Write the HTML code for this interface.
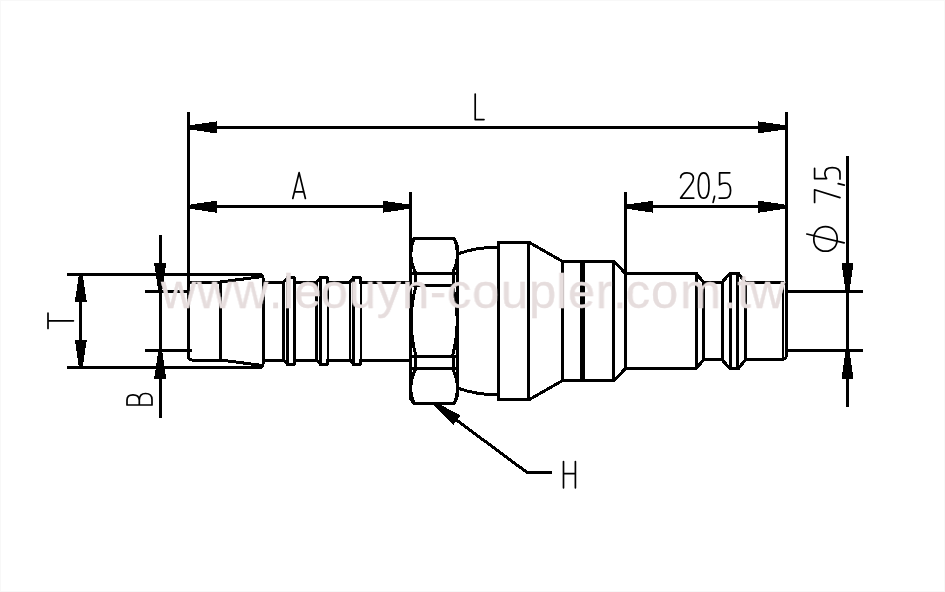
<!DOCTYPE html>
<html><head><meta charset="utf-8"><title>coupler drawing</title>
<style>
html,body{margin:0;padding:0;background:#fff;}
body{width:945px;height:592px;overflow:hidden;position:relative;font-family:"Liberation Sans",sans-serif;}
svg{position:absolute;left:0;top:0;display:block}
.wm{position:absolute;left:160.5px;top:263.3px;font-family:"Liberation Sans",sans-serif;font-size:49px;line-height:56px;color:#e6dddd;white-space:nowrap;-webkit-text-stroke:0.3px #e6dddd;transform-origin:0 0;transform:scaleX(0.992) translateZ(0);will-change:transform;letter-spacing:0.96px;}
</style></head><body>
<svg width="945" height="592" viewBox="0 0 945 592">
<rect width="945" height="592" fill="#fff"/><rect x="0.5" y="0.5" width="944" height="591" fill="none" stroke="#f8f8f8" stroke-width="1"/>
<g fill="none" stroke="#000" stroke-linecap="butt" stroke-linejoin="miter" shape-rendering="crispEdges">
<path d="M66.5,274.4H259.5Q263,274.4 263,278V321" stroke-width="3.0" />
<path d="M66.5,367.6H259.5Q263,367.6 263,364.0V321.0" stroke-width="3.0" />
<path d="M80.8,274.4L80.8,367.6" stroke-width="3.0"/>
<polygon points="82.70,274.40 86.80,302.40 74.80,302.40 78.90,274.40" fill="#000" stroke="none"/>
<polygon points="78.90,367.60 74.80,339.60 86.80,339.60 82.70,367.60" fill="#000" stroke="none"/>
<path d="M160.2,235.3L160.2,418.4" stroke-width="3.0"/>
<path d="M145,291.4L192,291.4" stroke-width="3.0"/>
<path d="M145,350.6L192,350.6" stroke-width="3.0"/>
<polygon points="158.30,291.40 154.20,263.40 166.20,263.40 162.10,291.40" fill="#000" stroke="none"/>
<polygon points="162.10,350.60 166.20,378.60 154.20,378.60 158.30,350.60" fill="#000" stroke="none"/>
<path d="M188.5,112.3L188.5,352" stroke-width="3.0"/>
<path d="M786.4,112.3L786.4,357" stroke-width="3.0"/>
<path d="M188.5,127.4L786.4,127.4" stroke-width="3.0"/>
<polygon points="188.50,125.50 216.50,121.40 216.50,133.40 188.50,129.30" fill="#000" stroke="none"/>
<polygon points="786.40,129.30 758.40,133.40 758.40,121.40 786.40,125.50" fill="#000" stroke="none"/>
<path d="M410.6,191.9L410.6,400" stroke-width="3.0"/>
<path d="M188.5,206.7L410.6,206.7" stroke-width="3.0"/>
<polygon points="188.50,204.80 216.50,200.70 216.50,212.70 188.50,208.60" fill="#000" stroke="none"/>
<polygon points="410.60,208.60 382.60,212.70 382.60,200.70 410.60,204.80" fill="#000" stroke="none"/>
<path d="M625.4,191.9L625.4,368.6" stroke-width="3.0"/>
<path d="M625.4,206.7L786.4,206.7" stroke-width="3.0"/>
<polygon points="625.40,204.80 653.40,200.70 653.40,212.70 625.40,208.60" fill="#000" stroke="none"/>
<polygon points="786.40,208.60 758.40,212.70 758.40,200.70 786.40,204.80" fill="#000" stroke="none"/>
<path d="M847.5,155.8L847.5,406.5" stroke-width="3.0"/>
<path d="M786.4,291.4L862.8,291.4" stroke-width="3.0"/>
<path d="M786.4,350.6L862.8,350.6" stroke-width="3.0"/>
<polygon points="845.60,291.40 841.50,263.40 853.50,263.40 849.40,291.40" fill="#000" stroke="none"/>
<polygon points="849.40,350.60 853.50,378.60 841.50,378.60 845.60,350.60" fill="#000" stroke="none"/>
<path d="M434.3,403.6L527.5,472.8H551.8" stroke-width="3.0" />
<polygon points="435.43,402.07 460.36,415.47 453.20,425.11 433.17,405.13" fill="#000" stroke="none"/>
<path d="M188.5,352V285.5Q188.5,282 192,282H220L263,276.5" stroke-width="3.0" />
<path d="M188.5,290.0V356.5Q188.5,360.0 192,360.0H220L263,365.5" stroke-width="3.0" />
<path d="M220,282L220,360" stroke-width="3.0"/>
<path d="M263,282H283.6L287.6,277.4H293.1Q294.6,277.4 294.6,279V282H316.7L320.7,277.4H326.3Q327.8,277.4 327.8,279V282H350L353.7,277.4H359.4Q360.9,277.4 360.9,279V282H410.6" stroke-width="3.0" />
<path d="M263,360.0H283.6L287.6,364.6H293.1Q294.6,364.6 294.6,363.0V360.0H316.7L320.7,364.6H326.3Q327.8,364.6 327.8,363.0V360.0H350L353.7,364.6H359.4Q360.9,364.6 360.9,363.0V360.0H410.6" stroke-width="3.0" />
<path d="M283.6,282L283.6,360" stroke-width="2.5"/>
<path d="M287.6,277.4L287.6,364.6" stroke-width="2.5"/>
<path d="M294.6,279L294.6,363" stroke-width="2.5"/>
<path d="M316.7,282L316.7,360" stroke-width="2.5"/>
<path d="M320.7,277.4L320.7,364.6" stroke-width="2.5"/>
<path d="M327.8,279L327.8,363" stroke-width="2.5"/>
<path d="M350,282L350,360" stroke-width="2.5"/>
<path d="M353.7,277.4L353.7,364.6" stroke-width="2.5"/>
<path d="M360.9,279L360.9,363" stroke-width="2.5"/>
<path d="M410.6,321V243L414.4,238.1H454L457.5,246V321" stroke-width="3.0" />
<path d="M410.6,321.0V399.0L414.4,403.9H454L457.5,396.0V321.0" stroke-width="3.0" />
<path d="M411,273.5L457.5,273.5" stroke-width="2.5"/>
<path d="M411,368.5L457.5,368.5" stroke-width="2.5"/>
<path d="M411,285.7L457.5,285.7" stroke-width="2.5"/>
<path d="M411,356.3L457.5,356.3" stroke-width="2.5"/>
<path d="M415.7,273.5V285.7M453,273.5V285.7" stroke-width="3.0" />
<path d="M415.7,368.5V356.3M453,368.5V356.3" stroke-width="3.0" />
<path d="M414.4,238.1Q406.4,255 416,273.5M454,238.1Q461.6,255 452.4,273.5" stroke-width="3.0" />
<path d="M414.4,403.9Q406.4,387.0 416,368.5M454,403.9Q461.6,387.0 452.4,368.5" stroke-width="3.0" />
<path d="M416,285.7Q406.3,321 416,356.3M452.4,285.7Q462,321 452.4,356.3" stroke-width="3.0" />
<path d="M458.6,253.6Q476,247.3 498.8,247" stroke-width="3.0" />
<path d="M458.6,388.4Q476,394.7 498.8,395.0" stroke-width="3.0" />
<path d="M498.8,321V242.2H528.9V321" stroke-width="3.0" />
<path d="M498.8,321.0V399.8H528.9V321.0" stroke-width="3.0" />
<path d="M528.9,242.2L562.3,261.3H613.8L625.4,273.4H696.3L703.5,282.3H722L730,273.4H738.5L745.3,282.3H783L786.4,285" stroke-width="3.0" />
<path d="M528.9,399.8L562.3,380.7H613.8L625.4,368.6H696.3L703.5,359.7H722L730,368.6H738.5L745.3,359.7H783L786.4,357.0" stroke-width="3.0" />
<path d="M562.3,261.3L562.3,380.7" stroke-width="3.0"/>
<path d="M582.9,261.3L582.9,380.7" stroke-width="5"/>
<path d="M613.8,261.3L613.8,380.7" stroke-width="3.0"/>
<path d="M696.3,273.4L696.3,368.6" stroke-width="3.0"/>
<path d="M703.5,282.3L703.5,359.7" stroke-width="3.0"/>
<path d="M722,282.3L722,359.7" stroke-width="3.0"/>
<path d="M730,273.4L730,368.6" stroke-width="3.0"/>
<path d="M737.5,273.4L737.5,368.6" stroke-width="3.0"/>
<path d="M745.3,282.3L745.3,359.7" stroke-width="3.0"/>
<path d="M782.9,282.3L782.9,359.7" stroke-width="2"/>
</g>
<g fill="none" stroke="#000" stroke-width="1.7" stroke-linecap="round" stroke-linejoin="round">
<path d="M475.2,94V119.6H484"/>
<path d="M292.8,198.5L299.1,172.6L305.4,198.5M294.4,191.9H303.8"/>
<path d="M563.5,461.5V487.8M575.4,461.5V487.8M563.5,473.6H575.4"/>
<path d="M680.6,177.6Q681.2,172.8 687,172.8Q693.4,172.8 693.4,178.6Q693.4,181.5 690.5,185L680.6,198.1H693.8"/>
<path d="M703.6,172.8C699.5,172.8 698.3,178 698.3,185.4C698.3,193 699.5,198.1 703.6,198.1C707.7,198.1 709,193 709,185.4C709,178 707.7,172.8 703.6,172.8Z"/>
<path d="M714.6,196.3L713.1,202.4"/>
<path d="M729.8,172.8H719.6V184.8Q722,183 725,183Q730.6,183.2 730.6,190.4Q730.6,198.1 724.6,198.1H719.2"/>
<path d="M48,313.2V328.4M48,320.8H73.4"/>
<path d="M127,405H152V399.5Q152,393.5 145.5,393.5Q139.5,393.5 139.3,400V405M139.3,400Q139,394.8 133,394.8Q127,394.8 127,400V405"/>
<path d="M814.6,168.3V178.6H826.6Q824.8,176.2 824.8,173.2Q825,167.6 832.2,167.6Q840,167.6 840,173.6V179"/>
<path d="M838.2,183.6L844.3,185.1"/>
<path d="M814.6,202.4V189.8L840,197.6"/>
<path d="M825.5,226.6C832.5,226.6 837.2,231.5 837.2,238.9C837.2,246.3 832.5,251.2 825.5,251.2C818.5,251.2 813.8,246.3 813.8,238.9C813.8,231.5 818.5,226.6 825.5,226.6ZM806.8,234L844.2,242.9"/>
</g>
</svg>
<div class="wm" id="wm">www<span style="position:relative;left:2.5px">.</span><span style="position:relative;left:2.2px">l</span><span style="position:relative;left:1.7px">e</span>ouyn-co<span style="position:relative;left:0.8px">u</span><span style="position:relative;left:0.8px">p</span>ler<span style="position:relative;left:2.5px">.</span><span style="position:relative;left:0.8px">c</span><span style="position:relative;left:0.8px">o</span><span style="position:relative;left:2px">m</span><span style="position:relative;left:3.4px">.</span><span style="position:relative;left:3.2px">t</span><span style="position:relative;left:1.5px">w</span></div>
</body></html>
